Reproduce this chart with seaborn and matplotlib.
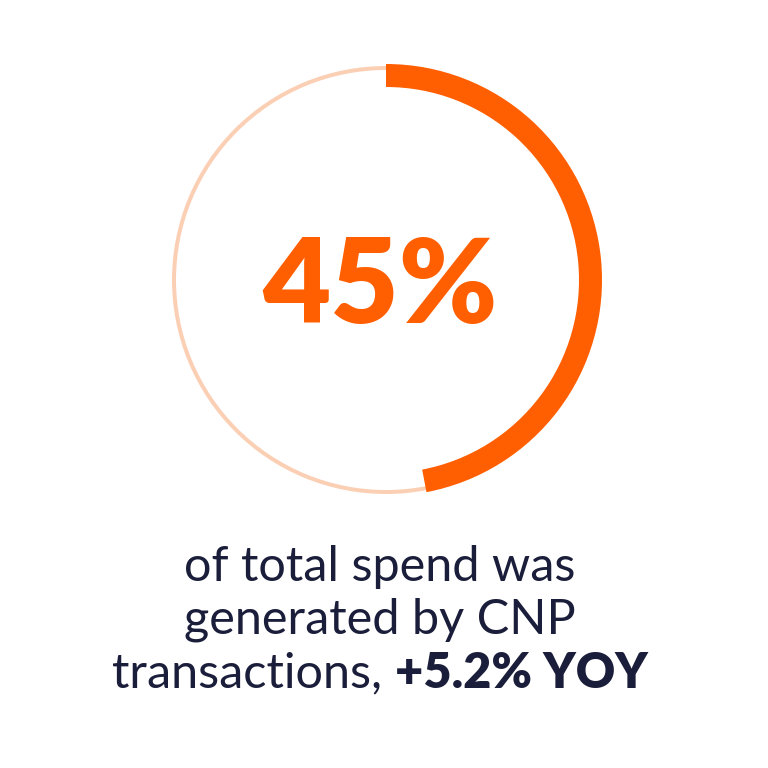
import matplotlib
matplotlib.use("Agg")
import matplotlib.pyplot as plt
import seaborn as sns

sns.set_theme(style="white")
plt.rcParams['font.family'] = ['Lato', 'DejaVu Sans']

share = [47, 53]
headline = "45%"
line1 = "of total spend was"
line2 = "generated by CNP"
line3_regular = "transactions, "
line3_bold = "+5.2% YOY"

ORANGE = "#FF5F00"
LIGHT = "#FBCFB4"
NAVY = "#1B1E3A"

fig = plt.figure(figsize=(7.68, 7.68), dpi=100)
fig.patch.set_facecolor("white")
ax = fig.add_axes([0, 0, 1, 1])
cx, cy = 386, 768 - 280
ax.pie([1], radius=214, center=(cx, cy), colors=[LIGHT],
       wedgeprops=dict(width=4, edgecolor="none"))
ax.pie(share, radius=216, center=(cx, cy), startangle=90, counterclock=False,
       colors=[ORANGE, (1, 1, 1, 0)], wedgeprops=dict(width=23, edgecolor="none"))
ax.set_xlim(0, 768)
ax.set_ylim(0, 768)
ax.set_aspect("equal")
ax.axis("off")

ax.text(380, 768 - 288, headline, ha="center", va="center", fontsize=85,
        fontweight="heavy", color=ORANGE)
fs = 35
ax.text(380, 768 - 567, line1, ha="center", va="center", fontsize=fs, color=NAVY)
ax.text(380, 768 - 620, line2, ha="center", va="center", fontsize=fs, color=NAVY)

fig.canvas.draw()
r = fig.canvas.get_renderer()
t1 = ax.text(0, 768 - 673, line3_regular, ha="left", va="center", fontsize=fs, color=NAVY)
t2 = ax.text(0, 768 - 673, line3_bold, ha="left", va="center", fontsize=fs, color=NAVY,
             fontweight="heavy")
w1 = t1.get_window_extent(r).width
w2 = t2.get_window_extent(r).width
start = 380 - (w1 + w2) / 2
t1.set_x(start)
t2.set_x(start + w1)

fig.savefig("out.png", dpi=100, facecolor="white")
